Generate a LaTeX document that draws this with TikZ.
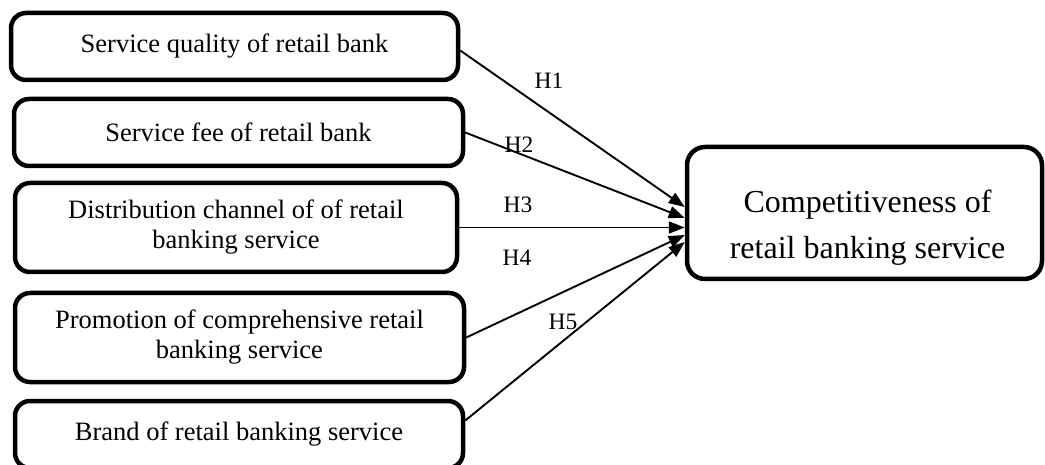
\documentclass[tikz,border=0pt]{standalone}
\usepackage{fontspec}
\setmainfont{Liberation Serif}
\usetikzlibrary{arrows.meta,calc}
\begin{document}
\begin{tikzpicture}[x=1pt,y=-1pt,
  factor/.style={draw,line width=4.5pt,rounded corners=15pt,align=center,
    inner sep=0pt,font=\fontsize{26.5}{30}\selectfont},
  outcome/.style={draw,line width=4.5pt,rounded corners=18pt,inner sep=0pt},
  outtext/.style={align=center,inner sep=0pt,font=\fontsize{32}{46}\selectfont},
  hyp/.style={-{Triangle[length=16pt,width=12pt]},line width=1.9pt},
  hlabel/.style={inner sep=0pt,font=\fontsize{23.5}{25}\selectfont}]
\useasboundingbox (0,0) rectangle (1045,465);
% independent factors
\node[factor,minimum width=447pt,minimum height=67pt] (b1) at (234.5,46.5)
  {Service quality of retail bank};
\node[factor,minimum width=449pt,minimum height=67pt] (b2) at (238.5,132.5)
  {Service fee of retail bank};
\node[factor,minimum width=442pt,minimum height=89pt] (b3) at (236,227.5)
  {Distribution channel of of retail\\banking service};
\node[factor,minimum width=449pt,minimum height=89pt] (b4) at (239.5,337.5)
  {Promotion of comprehensive retail\\banking service};
\node[factor,minimum width=448pt,minimum height=67pt] (b5) at (239,434.5)
  {Brand of retail banking service};
% dependent variable
\node[outcome,minimum width=355pt,minimum height=132pt] (t) at (864.5,213) {};
\node[outtext] (tt) at ($(t.center)+(3,15)$)
  {Competitiveness of\\retail banking service};
% hypotheses
\draw[hyp] ($(b1.east)+(0,4)$) -- ($(t.west)+(0,-6)$);
\draw[hyp] (b2.east) -- ($(t.west)+(0,5)$);
\draw[hyp] (b3.east) -- (b3.east -| t.west);
\draw[hyp] (b4.east) -- ($(t.west)+(0,22)$);
\draw[hyp] ($(b5.east)+(0,-14)$) -- ($(t.west)+(0,29)$);
\node[hlabel] (h1) at (549,81) {H1};
\node[hlabel] (h2) at (519,145) {H2};
\node[hlabel] (h3) at (518,205) {H3};
\node[hlabel] (h4) at (517,258) {H4};
\node[hlabel] (h5) at (563,322) {H5};
\end{tikzpicture}
\end{document}
